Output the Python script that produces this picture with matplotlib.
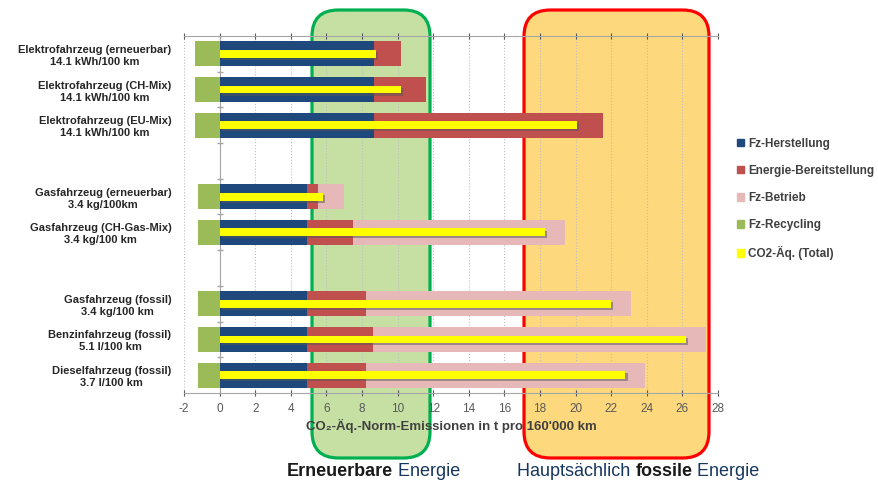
import matplotlib
matplotlib.use("Agg")
import matplotlib.pyplot as plt
import matplotlib.patheffects as pe
from matplotlib.patches import FancyBboxPatch, Patch
import numpy as np

plt.rcParams['font.family'] = ['Liberation Sans', 'DejaVu Sans']
plt.rcParams['axes.unicode_minus'] = False

# vehicle labels and their slot on the y axis (empty slots between groups)
labels = ["Elektrofahrzeug (erneuerbar)\n14.1 kWh/100 km",
          "Elektrofahrzeug (CH-Mix)\n14.1 kWh/100 km",
          "Elektrofahrzeug (EU-Mix)\n14.1 kWh/100 km",
          "Gasfahrzeug (erneuerbar)\n3.4 kg/100km",
          "Gasfahrzeug (CH-Gas-Mix)\n3.4 kg/100 km",
          "Gasfahrzeug (fossil)\n3.4 kg/100 km",
          "Benzinfahrzeug (fossil)\n5.1 l/100 km",
          "Dieselfahrzeug (fossil)\n3.7 l/100 km"]
slots = [0, 1, 2, 4, 5, 7, 8, 9]

# t CO2-eq per 160'000 km
herstellung = [8.65, 8.65, 8.65, 4.9, 4.9, 4.9, 4.9, 4.9]
energie = [1.55, 2.95, 12.9, 0.6, 2.6, 3.35, 3.7, 3.35]
betrieb = [0, 0, 0, 1.5, 11.9, 14.85, 18.75, 15.65]
recycling = [-1.4, -1.4, -1.4, -1.2, -1.2, -1.2, -1.2, -1.2]
total = [8.8, 10.2, 20.1, 5.8, 18.3, 22.0, 26.2, 22.8]

series_names = ['Fz-Herstellung', 'Energie-Bereitstellung', 'Fz-Betrieb',
                'Fz-Recycling', 'CO2-Äq. (Total)']
c_blue = '#1F497D'
c_red = '#C0504D'
c_pink = '#E6B9B8'
c_green = '#9BBB59'
c_yellow = '#FFFF00'

fig = plt.figure(figsize=(8.79, 4.84), dpi=100)
ax = fig.add_axes([184/879, 1-393/484, (718-184)/879, (393-36)/484])
ax.set_facecolor('none')

# rounded background boxes (pixel coords -> figure fraction)
W, H = 879, 484
def box(x0, x1, y0, y1, fc, ec):
    p = FancyBboxPatch((x0/W, 1-y1/H), (x1-x0)/W, (y1-y0)/H,
                       boxstyle="round,pad=0,rounding_size=0.03",
                       mutation_aspect=W/H, transform=fig.transFigure,
                       fc=fc, ec=ec, lw=2.3, zorder=-5)
    fig.patches.append(p)

box(312, 430, 10, 458, '#C6E0A4', '#00B050')
box(524, 709, 10, 458, '#FDD87D', '#FF0000')

y = np.array(slots)
h = np.array(herstellung)
e = np.array(energie)
b = np.array(betrieb)
shadow = [pe.SimplePatchShadow(offset=(1.5, -1.5), shadow_rgbFace='#555555', alpha=0.5), pe.Normal()]

ax.barh(y, h, height=0.7, left=0, color=c_blue, zorder=3)
ax.barh(y, e, height=0.7, left=h, color=c_red, zorder=3)
ax.barh(y, b, height=0.7, left=h+e, color=c_pink, zorder=3)
ax.barh(y, recycling, height=0.7, left=0, color=c_green, zorder=3)
ax.barh(y, total, height=0.22, left=0, color=c_yellow, zorder=4, path_effects=shadow)

ax.set_xlim(-2, 28)
ax.set_ylim(9.5, -0.5)
ax.set_xticks(np.arange(-2, 29, 2))
ax.set_yticks(slots)
ax.set_yticklabels(labels, fontsize=8, fontweight='bold', color='#262626',
                   multialignment='center', linespacing=1.25)
ax.tick_params(axis='y', length=0, pad=9)
ax.tick_params(axis='x', labelsize=8.5, colors='#595959', direction='inout', length=4,
               top=True, pad=5)
ax.grid(axis='x', color='#BFBFBF', linestyle=':', linewidth=0.8, zorder=0)
for s in ['left', 'right']:
    ax.spines[s].set_visible(False)
for s in ['top', 'bottom']:
    ax.spines[s].set_color('#A6A6A6')

# vertical axis line at zero with small category ticks
ax.axvline(0, color='#A6A6A6', lw=0.8, zorder=2)
ax.plot(np.zeros(10), np.arange(10) - 0.5, ls='none', marker='_', ms=4, color='#A6A6A6', zorder=2)

ax.set_xlabel("CO\u2082-Äq.-Norm-Emissionen in t pro 160'000 km", fontsize=9.5,
              fontweight='bold', color='#404040', labelpad=3)

handles = [Patch(color=c) for c in [c_blue, c_red, c_pink, c_green, c_yellow]]
fig.legend(handles, series_names, loc='center left', bbox_to_anchor=(726/W, 1-199/H),
           frameon=False, handlelength=0.6, handleheight=0.6, handletextpad=0.4,
           labelspacing=1.28, prop={'weight': 'bold', 'size': 8.5})
for t in fig.legends[0].get_texts():
    t.set_color('#404040')

# captions under the boxes with mixed styles
renderer = fig.canvas.get_renderer()
def caption(x, yb, parts):
    for txt, bold, col in parts:
        t = fig.text(x/W, 1-yb/H, txt, fontsize=13, fontweight='bold' if bold else 'normal',
                     color=col, va='baseline', ha='left')
        x = t.get_window_extent(renderer).x1
        x = x * W / fig.bbox.width

caption(287, 476, [("Erneuerbare", True, '#1a1a1a'), (" Energie", False, '#17375E')])
caption(517, 476, [("Hauptsächlich ", False, '#17375E'), ("fossile", True, '#1a1a1a'),
                   (" Energie", False, '#17375E')])

fig.savefig('out.png', dpi=100)
